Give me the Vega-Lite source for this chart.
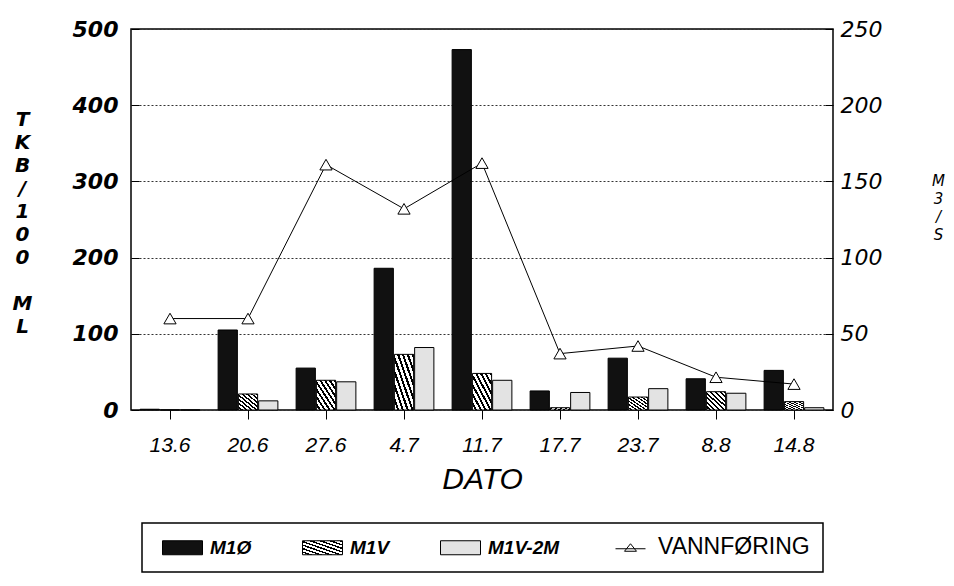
{
  "$schema": "https://vega.github.io/schema/vega-lite/v6.json",
  "width": 702,
  "height": 381,
  "autosize": {"type": "none"},
  "padding": {"left": 131, "top": 29, "right": 121, "bottom": 176},
  "background": "white",
  "datasets": {
    "bakterier": [
      {"dato": "13.6", "serie": "M1Ø", "verdi": 1},
      {"dato": "13.6", "serie": "M1V", "verdi": 0},
      {"dato": "13.6", "serie": "M1V-2M", "verdi": 0},
      {"dato": "20.6", "serie": "M1Ø", "verdi": 105},
      {"dato": "20.6", "serie": "M1V", "verdi": 21},
      {"dato": "20.6", "serie": "M1V-2M", "verdi": 12},
      {"dato": "27.6", "serie": "M1Ø", "verdi": 55},
      {"dato": "27.6", "serie": "M1V", "verdi": 39},
      {"dato": "27.6", "serie": "M1V-2M", "verdi": 37},
      {"dato": "4.7", "serie": "M1Ø", "verdi": 186},
      {"dato": "4.7", "serie": "M1V", "verdi": 73},
      {"dato": "4.7", "serie": "M1V-2M", "verdi": 82},
      {"dato": "11.7", "serie": "M1Ø", "verdi": 473},
      {"dato": "11.7", "serie": "M1V", "verdi": 48},
      {"dato": "11.7", "serie": "M1V-2M", "verdi": 39},
      {"dato": "17.7", "serie": "M1Ø", "verdi": 25},
      {"dato": "17.7", "serie": "M1V", "verdi": 3},
      {"dato": "17.7", "serie": "M1V-2M", "verdi": 23},
      {"dato": "23.7", "serie": "M1Ø", "verdi": 68},
      {"dato": "23.7", "serie": "M1V", "verdi": 17},
      {"dato": "23.7", "serie": "M1V-2M", "verdi": 28},
      {"dato": "8.8", "serie": "M1Ø", "verdi": 41},
      {"dato": "8.8", "serie": "M1V", "verdi": 24},
      {"dato": "8.8", "serie": "M1V-2M", "verdi": 22},
      {"dato": "14.8", "serie": "M1Ø", "verdi": 52},
      {"dato": "14.8", "serie": "M1V", "verdi": 11},
      {"dato": "14.8", "serie": "M1V-2M", "verdi": 3}
    ],
    "vannforing": [
      {"dato": "13.6", "vannforing": 60},
      {"dato": "20.6", "vannforing": 60},
      {"dato": "27.6", "vannforing": 161},
      {"dato": "4.7", "vannforing": 132},
      {"dato": "11.7", "vannforing": 162},
      {"dato": "17.7", "vannforing": 37},
      {"dato": "23.7", "vannforing": 42},
      {"dato": "8.8", "vannforing": 21.5},
      {"dato": "14.8", "vannforing": 17}
    ]
  },
  "layer": [
    {
      "data": {"name": "bakterier"},
      "mark": {"type": "bar", "stroke": "black", "strokeWidth": 1},
      "encoding": {
        "x": {
          "field": "dato",
          "type": "nominal",
          "sort": ["13.6", "20.6", "27.6", "4.7", "11.7", "17.7", "23.7", "8.8", "14.8"],
          "scale": {"paddingInner": 0, "paddingOuter": 0},
          "axis": {
            "title": "DATO",
            "titleFont": "Liberation Sans",
            "titleFontSize": 30,
            "titleFontStyle": "italic",
            "titleFontWeight": "normal",
            "titleBaseline": "top",
            "titleY": 54,
            "titleColor": "black",
            "labelAngle": 0,
            "labelFont": "Liberation Sans",
            "labelFontSize": 21,
            "labelFontStyle": "italic",
            "labelColor": "black",
            "labelPadding": 15,
            "labelBaseline": "top",
            "tickSize": 9,
            "tickColor": "black",
            "domain": false,
            "grid": false
          }
        },
        "xOffset": {
          "field": "serie",
          "type": "nominal",
          "sort": ["M1Ø", "M1V", "M1V-2M"],
          "scale": {"paddingInner": 0.05, "paddingOuter": 0.45}
        },
        "y": {
          "field": "verdi",
          "type": "quantitative",
          "scale": {"domain": [0, 500], "nice": false},
          "axis": {
            "title": ["T", "K", "B", "/", "1", "0", "0", "\u2800", "M", "L"],
            "titleAngle": 0,
            "titleAlign": "center",
            "titleBaseline": "top",
            "titleX": -109,
            "titleY": 80,
            "titleLineHeight": 23,
            "titleFont": "DejaVu Sans",
            "titleFontSize": 20,
            "titleFontStyle": "italic",
            "titleFontWeight": "bold",
            "titleColor": "black",
            "values": [0, 100, 200, 300, 400, 500],
            "grid": true,
            "gridDash": [2, 2],
            "gridColor": "#333",
            "gridWidth": 1,
            "domain": false,
            "tickSize": -8,
            "tickColor": "black",
            "labelPadding": 21,
            "labelFont": "DejaVu Sans",
            "labelFontSize": 22,
            "labelFontStyle": "italic",
            "labelFontWeight": "bold",
            "labelColor": "black",
            "labelFlush": false,
            "labelOverlap": false
          }
        },
        "fill": {
          "field": "serie",
          "type": "nominal",
          "scale": {
            "domain": ["M1Ø", "M1V", "M1V-2M", "VANNFØRING"],
            "range": [
              "#111111",
              {"expr": "{gradient: 'linear', x1: 0, y1: 1, x2: 1, y2: 0, stops: [{offset: 0, color: 'white'}, {offset: 0.07, color: 'white'}, {offset: 0.07, color: 'black'}, {offset: 0.125, color: 'black'}, {offset: 0.125, color: 'white'}, {offset: 0.195, color: 'white'}, {offset: 0.195, color: 'black'}, {offset: 0.25, color: 'black'}, {offset: 0.25, color: 'white'}, {offset: 0.32, color: 'white'}, {offset: 0.32, color: 'black'}, {offset: 0.375, color: 'black'}, {offset: 0.375, color: 'white'}, {offset: 0.445, color: 'white'}, {offset: 0.445, color: 'black'}, {offset: 0.5, color: 'black'}, {offset: 0.5, color: 'white'}, {offset: 0.57, color: 'white'}, {offset: 0.57, color: 'black'}, {offset: 0.625, color: 'black'}, {offset: 0.625, color: 'white'}, {offset: 0.695, color: 'white'}, {offset: 0.695, color: 'black'}, {offset: 0.75, color: 'black'}, {offset: 0.75, color: 'white'}, {offset: 0.82, color: 'white'}, {offset: 0.82, color: 'black'}, {offset: 0.875, color: 'black'}, {offset: 0.875, color: 'white'}, {offset: 0.945, color: 'white'}, {offset: 0.945, color: 'black'}, {offset: 1, color: 'black'}]}"},
              "#e3e3e3",
              "white"
            ]
          },
          "legend": {
            "title": null,
            "orient": "none",
            "legendX": 11,
            "legendY": 494,
            "direction": "horizontal",
            "columns": 4,
            "padding": 13,
            "fillColor": "white",
            "strokeColor": "black",
            "symbolSize": 400,
            "symbolOffset": 17,
            "symbolStrokeColor": "black",
            "symbolStrokeWidth": 1,
            "symbolOpacity": 1,
            "labelOffset": 17,
            "columnPadding": 43,
            "labelFont": "Liberation Sans",
            "labelFontSize": 19,
            "labelColor": "black",
            "labelLimit": 300,
            "encode": {
              "legend": {"update": {"strokeWidth": {"value": 1.5}}},
              "symbols": {
                "update": {
                  "shape": {"signal": "datum.value === 'VANNFØRING' ? 'M-1.5,0.2H1.5M-0.6,0.45L0,-0.3L0.6,0.45Z' : 'M-2,-0.7H2V0.7H-2Z'"},
                  "stroke": {"value": "black"},
                  "strokeWidth": {"value": 1}
                }
              },
              "labels": {
                "update": {
                  "fontStyle": {"signal": "datum.value === 'VANNFØRING' ? 'normal' : 'italic'"},
                  "fontWeight": {"signal": "datum.value === 'VANNFØRING' ? 'normal' : 'bold'"},
                  "fontSize": {"signal": "datum.value === 'VANNFØRING' ? 23 : 19"}
                }
              }
            }
          }
        }
      }
    },
    {
      "data": {"name": "vannforing"},
      "mark": {
        "type": "line",
        "color": "black",
        "strokeWidth": 1,
        "point": {"shape": "triangle-up", "filled": true, "fill": "white", "stroke": "black", "strokeWidth": 1, "size": 150, "opacity": 1}
      },
      "encoding": {
        "x": {
          "field": "dato",
          "type": "nominal",
          "sort": ["13.6", "20.6", "27.6", "4.7", "11.7", "17.7", "23.7", "8.8", "14.8"]
        },
        "y": {
          "field": "vannforing",
          "type": "quantitative",
          "scale": {"domain": [0, 250], "nice": false},
          "axis": {
            "orient": "right",
            "title": ["M", "3", "/", "S"],
            "titleAngle": 0,
            "titleAlign": "center",
            "titleBaseline": "top",
            "titleX": 105,
            "titleY": 144,
            "titleLineHeight": 18,
            "titleFont": "DejaVu Sans",
            "titleFontSize": 15,
            "titleFontStyle": "italic",
            "titleFontWeight": "normal",
            "titleColor": "black",
            "values": [0, 50, 100, 150, 200, 250],
            "grid": false,
            "domain": false,
            "tickSize": -8,
            "tickColor": "black",
            "labelPadding": 15,
            "labelFont": "DejaVu Sans",
            "labelFontSize": 22,
            "labelFontStyle": "italic",
            "labelColor": "black",
            "labelFlush": false,
            "labelOverlap": false
          }
        }
      }
    }
  ],
  "resolve": {"scale": {"y": "independent"}},
  "config": {
    "view": {"stroke": "black", "strokeWidth": 1.5},
    "font": "Liberation Sans"
  }
}
